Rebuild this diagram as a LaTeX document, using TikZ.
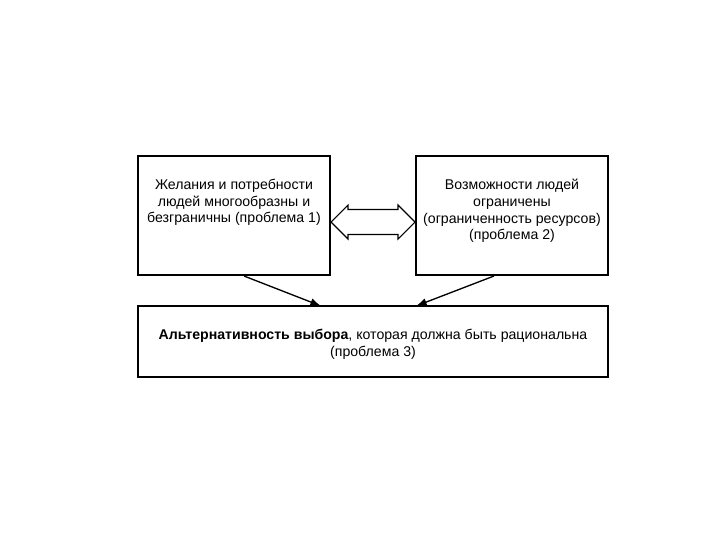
\documentclass[tikz,border=0pt]{standalone}
\usepackage{fontspec}
\setmainfont{Liberation Sans}
\begin{document}
\begin{tikzpicture}[x=0.75pt,y=-0.75pt,
  box/.style={draw=black,line width=0.8pt},
  txt/.style={align=center,font=\fontsize{10.6}{12.4}\selectfont,inner sep=0pt},
  conn/.style={draw=black,line width=1pt,-{Latex[length=8pt,width=6pt]}}]
\useasboundingbox (0,0) rectangle (720,540);
\usetikzlibrary{arrows.meta}
\node[box,minimum width=144pt,minimum height=89.25pt,inner sep=0pt] (b1) at (234,215.5) {};
\node[box,minimum width=144pt,minimum height=89.25pt,inner sep=0pt] (b2) at (512,215.5) {};
\node[box,minimum width=352.5pt,minimum height=53.25pt,inner sep=0pt] (b3) at (373,341.5) {};
\node[txt] (t1) at (234,202.5) {Желания и потребности\\людей многообразны и\\безграничны (проблема 1)};
\node[txt] (t2) at (512,211) {Возможности людей\\ограничены\\(ограниченность ресурсов)\\(проблема 2)};
\node[txt] (t3) at (373,344.5) {\textbf{Альтернативность выбора}, которая должна быть рациональна\\(проблема 3)};
\coordinate (s1) at (244,276);
\coordinate (e1) at (321,306);
\coordinate (s2) at (494,276);
\coordinate (e2) at (416,306);
\draw[conn] (s1) -- (e1);
\draw[conn] (s2) -- (e2);
\draw[line width=0.8pt,fill=white] (331,222) -- (348,205) -- (348,209.5) -- (398,209.5) -- (398,205) -- (415,222)
  -- (398,239) -- (398,234.5) -- (348,234.5) -- (348,239) -- cycle;
\end{tikzpicture}
\end{document}
